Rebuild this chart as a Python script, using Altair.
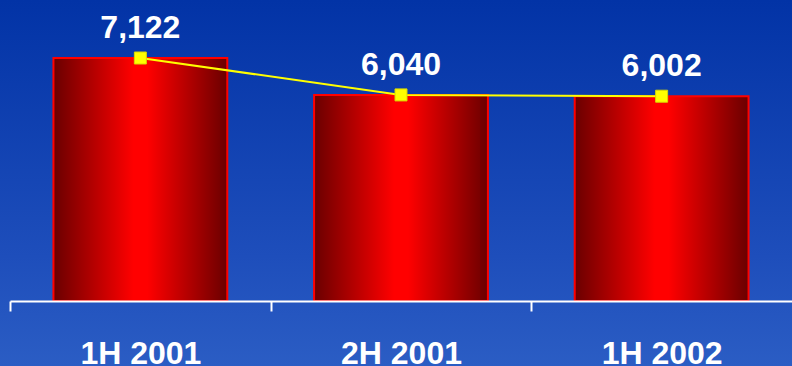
import altair as alt
import pandas as pd

periods = ["1H 2001", "2H 2001", "1H 2002"]
values = [7122, 6040, 6002]

df = pd.DataFrame({"period": periods, "value": values})

FONT = "Liberation Sans"
STEP = 782 / 3

x_enc = alt.X(
    "period:N",
    sort=None,
    title=None,
    scale=alt.Scale(paddingInner=0.333, paddingOuter=0.1667),
    axis=alt.Axis(
        labelAngle=0,
        labelFont=FONT,
        labelFontSize=32,
        labelFontWeight="bold",
        labelColor="white",
        labelBaseline="alphabetic",
        labelPadding=52,
        tickOffset=-STEP / 2,
        labelOffset=STEP / 2,
        tickSize=10,
        tickWidth=2,
        tickColor="white",
        domainColor="white",
        domainWidth=2,
        grid=False,
        zindex=1,
    ),
)
y_enc = alt.Y(
    "value:Q",
    title=None,
    scale=alt.Scale(domain=[0, 8822], nice=False, zero=True),
    axis=None,
)

bg = alt.Chart(alt.Data(values=[{"k": 1}])).mark_rect(
    fill=alt.Gradient(
        gradient="linear",
        stops=[
            alt.GradientStop(color="#0233A6", offset=0),
            alt.GradientStop(color="#1E4EBB", offset=0.7),
            alt.GradientStop(color="#2B5DC4", offset=1),
        ],
        x1=0, x2=0, y1=0, y2=1,
    )
).encode(
    x=alt.value(-10), x2=alt.value(800), y=alt.value(0), y2=alt.value(366)
)

bars = alt.Chart(df).mark_bar(
    fill=alt.Gradient(
        gradient="linear",
        stops=[
            alt.GradientStop(color="#6A0000", offset=0),
            alt.GradientStop(color="#FF0000", offset=0.46),
            alt.GradientStop(color="#FF0000", offset=0.54),
            alt.GradientStop(color="#6A0000", offset=1),
        ],
        x1=0, x2=1, y1=0, y2=0,
    ),
    stroke="#FF0000",
    strokeWidth=2,
).encode(x=x_enc, y=y_enc)

line = alt.Chart(df).mark_line(color="#FFFF00", strokeWidth=2).encode(
    x=alt.X("period:N", sort=None), y="value:Q"
)

points = alt.Chart(df).mark_point(
    shape="square", filled=True, size=144, color="#FFFF00", opacity=1,
    stroke="#D8D800", strokeWidth=1,
).encode(x=alt.X("period:N", sort=None), y="value:Q")

labels = alt.Chart(df).mark_text(
    dy=-20, baseline="alphabetic", align="center",
    font=FONT, fontSize=32, fontWeight="bold", color="white",
).encode(
    x=alt.X("period:N", sort=None), y="value:Q",
    text=alt.Text("value:Q", format=","),
)

chart = alt.layer(bg, bars, line, points, labels).properties(
    width=782,
    height=301,
    padding={"left": 10, "top": 0, "right": 0, "bottom": 65},
    autosize="none",
).configure_view(stroke=None).configure(background="#2B5DC4")

chart.save("out.html", embed_options={"renderer": "svg", "actions": False})
